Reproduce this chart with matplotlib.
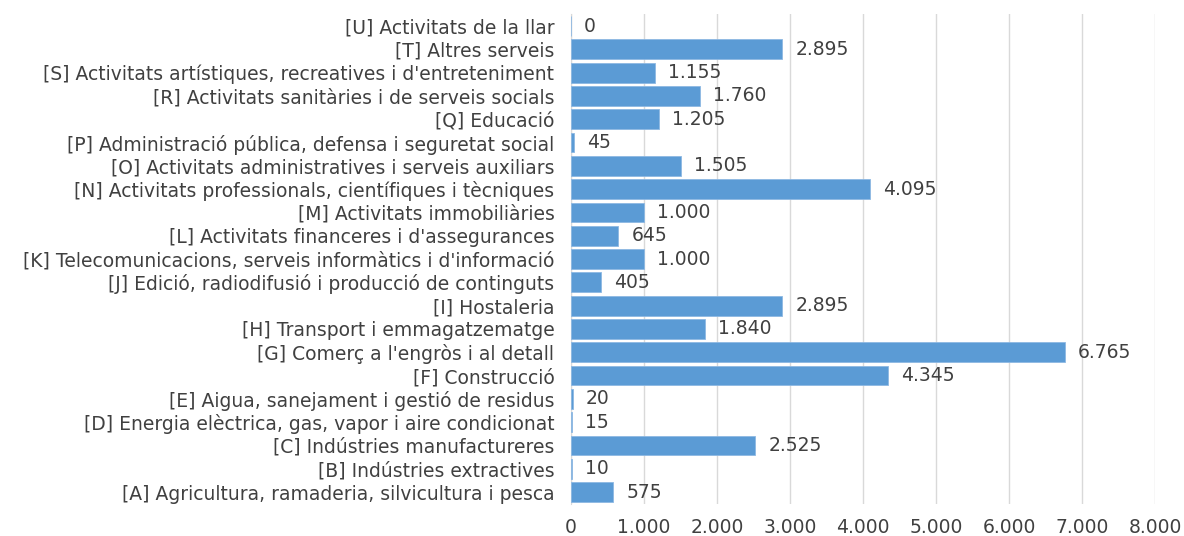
import matplotlib
matplotlib.use("Agg")
import matplotlib.pyplot as plt
from matplotlib.ticker import FuncFormatter

plt.rcParams['font.family'] = ['DejaVu Sans']

categories = [
    "[A] Agricultura, ramaderia, silvicultura i pesca",
    "[B] Indústries extractives",
    "[C] Indústries manufactureres",
    "[D] Energia elèctrica, gas, vapor i aire condicionat",
    "[E] Aigua, sanejament i gestió de residus",
    "[F] Construcció",
    "[G] Comerç a l'engròs i al detall",
    "[H] Transport i emmagatzematge",
    "[I] Hostaleria",
    "[J] Edició, radiodifusió i producció de continguts",
    "[K] Telecomunicacions, serveis informàtics i d'informació",
    "[L] Activitats financeres i d'assegurances",
    "[M] Activitats immobiliàries",
    "[N] Activitats professionals, científiques i tècniques",
    "[O] Activitats administratives i serveis auxiliars",
    "[P] Administració pública, defensa i seguretat social",
    "[Q] Educació",
    "[R] Activitats sanitàries i de serveis socials",
    "[S] Activitats artístiques, recreatives i d'entreteniment",
    "[T] Altres serveis",
    "[U] Activitats de la llar",
]
values = [575, 10, 2525, 15, 20, 4345, 6765, 1840, 2895, 405, 1000,
          645, 1000, 4095, 1505, 45, 1205, 1760, 1155, 2895, 0]

def fmt(v):
    return f"{int(v):,}".replace(",", ".")

text_color = "#404040"
fs = 13.5

fig = plt.figure(figsize=(11.84, 5.36), dpi=100)
ax = fig.add_axes([0.4823, 0.0603, 0.9755 - 0.4823, 0.9732 - 0.0603])

ypos = range(len(categories))
ax.barh(ypos, values, height=0.85, color="#5B9BD5", edgecolor="#8DB8E3", linewidth=0.6, zorder=3)
for y, v in zip(ypos, values):
    ax.text(v + 180, y, fmt(v), va="center", ha="left", fontsize=fs, color=text_color)

ax.set_yticks(list(ypos))
ax.set_yticklabels(categories, fontsize=fs, color=text_color)
ax.set_ylim(-0.5, len(categories) - 0.5)
ax.set_xlim(0, 8000)
ax.set_xticks(range(0, 8001, 1000))
ax.xaxis.set_major_formatter(FuncFormatter(lambda v, p: fmt(v)))
ax.tick_params(axis="x", labelsize=fs, colors=text_color, length=0, pad=10)
ax.tick_params(axis="y", length=0, pad=12)
ax.grid(axis="x", color="#D9D9D9", linewidth=1, zorder=0)
for s in ["top", "right", "bottom"]:
    ax.spines[s].set_visible(False)
ax.spines["left"].set_color("#D9D9D9")

fig.savefig("out.png", dpi=100)
